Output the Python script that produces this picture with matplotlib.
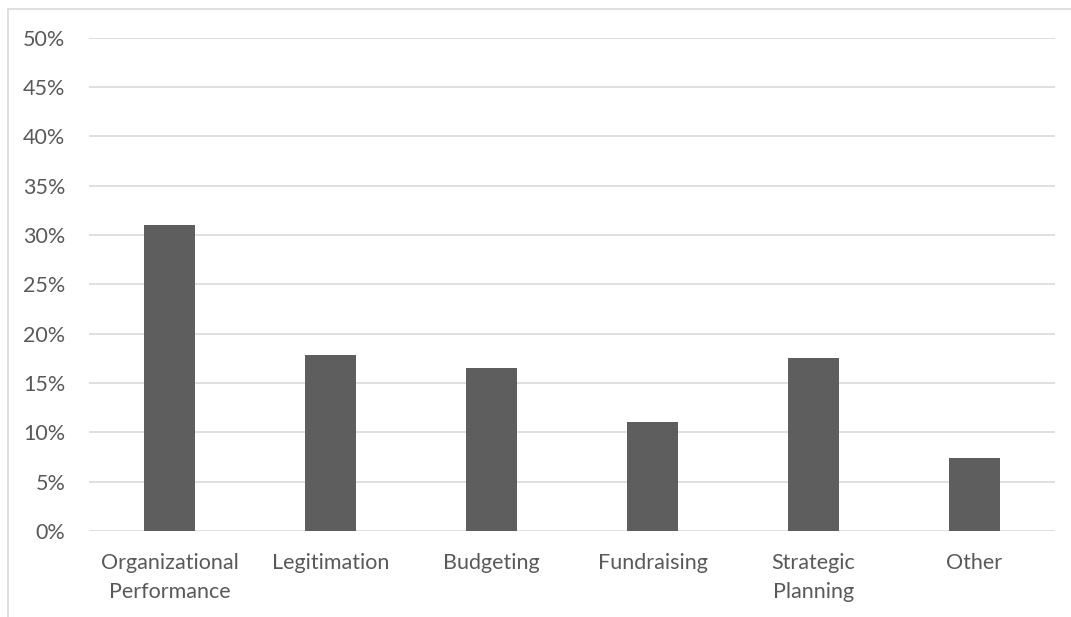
import matplotlib.pyplot as plt
from matplotlib.patches import Rectangle
from matplotlib.ticker import PercentFormatter

categories = ["Organizational\nPerformance", "Legitimation", "Budgeting",
              "Fundraising", "Strategic\nPlanning", "Other"]
values = [0.31, 0.178, 0.165, 0.11, 0.175, 0.074]
yticks = [i * 0.05 for i in range(11)]

plt.rcParams['font.family'] = ['Lato', 'DejaVu Sans']

fig = plt.figure(figsize=(10.71, 6.17), dpi=100)
ax = fig.add_axes([89 / 1071, 1 - 531 / 617, (1055 - 89) / 1071, (531 - 37.7) / 617])

x = range(len(categories))
ax.bar(x, values, width=0.315, color="#5e5e5e", zorder=3)

ax.set_ylim(0, 0.5)
ax.set_xlim(-0.5, len(categories) - 0.5)
ax.set_yticks(yticks)
ax.yaxis.set_major_formatter(PercentFormatter(1.0, decimals=0))
ax.set_xticks(list(x))
ax.set_xticklabels(categories, linespacing=1.55)
ax.grid(axis="y", color="#d9d9d9", linewidth=1.2, zorder=0)
for s in ax.spines.values():
    s.set_visible(False)
ax.tick_params(axis="both", length=0, labelcolor="#595959", labelsize=15.5)
ax.tick_params(axis="y", pad=17)
ax.tick_params(axis="x", pad=16)

# outer chart border, cut off at the right and bottom edges
fig.patches.append(Rectangle((7.5 / 1071, -0.1), 1.2, 1 - 8.5 / 617 + 0.1,
                             transform=fig.transFigure, fill=False,
                             edgecolor="#d9d9d9", linewidth=1.2))

fig.savefig("out.png", dpi=100)
